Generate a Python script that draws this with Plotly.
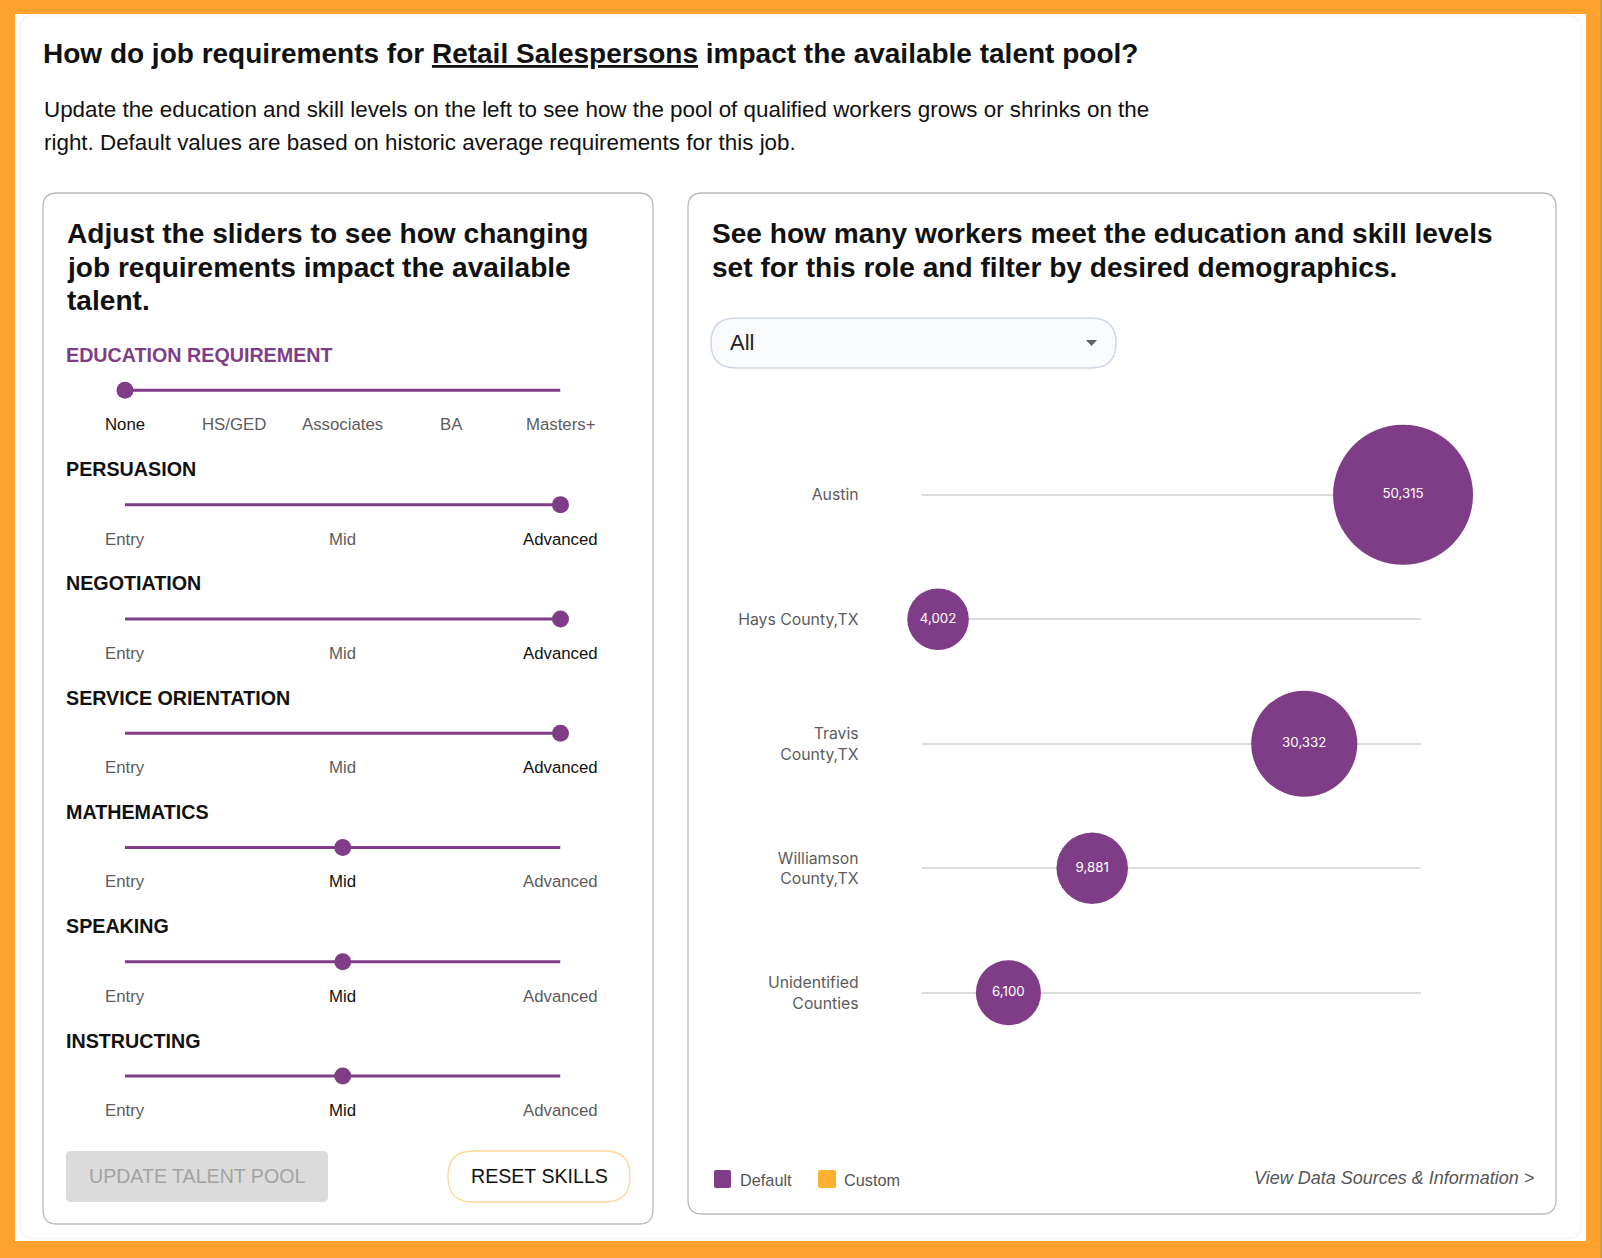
import plotly.graph_objects as go

W, H = 1602, 1258

PURPLE = "#7f3d87"
ORANGE = "#ffa12d"
HELV = "Liberation Sans"
DM = "Inter"

# chart data
counties = ["Austin", "Hays County,TX", "Travis<br>County,TX", "Williamson<br>County,TX", "Unidentified<br>Counties"]
workers = [50315, 4002, 30332, 9881, 6100]
# where each bubble sits along its track, percent
track_pos = [96.5, 3.3, 76.7, 34.2, 17.4]

# sliders
skills = ["EDUCATION REQUIREMENT", "PERSUASION", "NEGOTIATION", "SERVICE ORIENTATION", "MATHEMATICS", "SPEAKING", "INSTRUCTING"]
edu_levels = ["None", "HS/GED", "Associates", "BA", "Masters+"]
skill_levels = ["Entry", "Mid", "Advanced"]
selected = ["None", "Advanced", "Advanced", "Advanced", "Mid", "Mid", "Mid"]

# text
title_parts = "<b>How do job requirements for <u>Retail Salespersons</u> impact the available talent pool?</b>"
intro_lines = [
    "Update the education and skill levels on the left to see how the pool of qualified workers grows or shrinks on the",
    "right. Default values are based on historic average requirements for this job.",
]
left_heading = ["Adjust the sliders to see how changing", "job requirements impact the available", "talent."]
right_heading = ["See how many workers meet the education and skill levels", "set for this role and filter by desired demographics."]


def px(x):
    return x / W


def py(y):
    return 1 - y / H


def rrect(x0, y0, x1, y1, r, fill, line, lw=1.3):
    path = (
        f"M {px(x0 + r)} {py(y0)} L {px(x1 - r)} {py(y0)} "
        f"Q {px(x1)} {py(y0)} {px(x1)} {py(y0 + r)} L {px(x1)} {py(y1 - r)} "
        f"Q {px(x1)} {py(y1)} {px(x1 - r)} {py(y1)} L {px(x0 + r)} {py(y1)} "
        f"Q {px(x0)} {py(y1)} {px(x0)} {py(y1 - r)} L {px(x0)} {py(y0 + r)} "
        f"Q {px(x0)} {py(y0)} {px(x0 + r)} {py(y0)} Z"
    )
    return dict(type="path", path=path, xref="paper", yref="paper", fillcolor=fill,
                line=dict(color=line, width=lw), layer="below")


def label(x, y, text, size, color="#111111", anchor="left", font=HELV):
    return dict(x=px(x), y=py(y), xref="paper", yref="paper", text=text, showarrow=False,
                xanchor=anchor, yanchor="middle", borderpad=0,
                font=dict(family=font, size=size, color=color))


fig = go.Figure()

# bubbles, radius grows linearly with the count
radius = [27.4 + 0.000846 * v for v in workers]
fig.add_trace(
    go.Scatter(
        x=track_pos,
        y=counties,
        mode="markers+text",
        marker=dict(size=[2 * r for r in radius], color=PURPLE, opacity=1, line=dict(width=0)),
        text=[f"{v:,}" for v in workers],
        textposition="middle center",
        textfont=dict(family=DM, size=13.3, color="white"),
        cliponaxis=False,
        showlegend=False,
    )
)

# slider rows
annotations = []
for i, skill in enumerate(skills):
    levels = edu_levels if i == 0 else skill_levels
    n = len(levels)
    pos = [k / (n - 1) for k in range(n)]
    fig.add_trace(
        go.Scatter(
            x=pos,
            y=[skill] * n,
            xaxis="x2",
            yaxis="y2",
            mode="lines",
            line=dict(color=PURPLE, width=3),
            showlegend=False,
        )
    )
    fig.add_trace(
        go.Scatter(
            x=[pos[levels.index(selected[i])]],
            y=[skill],
            xaxis="x2",
            yaxis="y2",
            mode="markers",
            marker=dict(size=17, color=PURPLE),
            cliponaxis=False,
            showlegend=False,
        )
    )
    annotations.append(
        dict(x=px(64.3), y=skill, xref="paper", yref="y2", yshift=35.5, text=f"<b>{skill}</b>", showarrow=False,
             xanchor="left", yanchor="middle",
             font=dict(family=HELV, size=19.7, color=PURPLE if i == 0 else "#111111"))
    )
    for lev, p in zip(levels, pos):
        annotations.append(
            dict(x=p, y=skill, xref="x2", yref="y2", yshift=-34.5, text=lev, showarrow=False,
                 xanchor="center", yanchor="middle",
                 font=dict(family=HELV, size=16.8, color="#111111" if lev == selected[i] else "#5c5c5c"))
        )

shapes = [
    dict(type="rect", xref="paper", yref="paper", x0=px(15), x1=px(1586), y0=py(1241), y1=py(14),
         fillcolor="white", line=dict(width=0), layer="below"),
    dict(type="rect", xref="paper", yref="paper", x0=px(1600.7), x1=1, y0=0, y1=1,
         fillcolor="#9a9a9a", line=dict(width=0), layer="below"),
    rrect(20, 15.5, 1581, 1238.5, 14, "white", "#f7f7f7", 2.5),
    rrect(43, 193, 653, 1224, 14, "white", "#b9b9b9"),
    rrect(688, 193, 1556, 1214, 14, "white", "#b9b9b9"),
    rrect(711, 318, 1116, 368, 25, "#fafbfd", "#cfd7e2", 1.5),
    rrect(66, 1151, 328, 1202, 5, "#dbdbdb", "#dbdbdb", 0),
    rrect(448, 1151, 630, 1202, 25, "white", "#ffd898", 1.3),
    rrect(714, 1170, 731, 1188, 2, PURPLE, PURPLE, 0),
    rrect(818, 1170, 836, 1188, 2, "#ffb02e", "#ffb02e", 0),
    dict(type="path", xref="paper", yref="paper", layer="above", fillcolor="#5f6368", line=dict(width=0),
         path=f"M {px(1086)} {py(340)} L {px(1097)} {py(340)} L {px(1091.5)} {py(346)} Z"),
]

annotations += [
    label(42, 53, title_parts, 28),
    label(42.5, 109, intro_lines[0], 22.4),
    label(42.5, 142.5, intro_lines[1], 22.4),
]
for k, line in enumerate(left_heading):
    annotations.append(label(65.5, 233.5 + k * 33.7, f"<b>{line}</b>", 28.1))
for k, line in enumerate(right_heading):
    annotations.append(label(710.5, 233.5 + k * 33.7, f"<b>{line}</b>", 28.1))
annotations += [
    label(729, 342, "All", 22, "#222222"),
    label(197, 1176, "UPDATE TALENT POOL", 19.6, "#a3a3a3", "center"),
    label(539, 1176, "RESET SKILLS", 19.6, "#111111", "center"),
    label(739, 1180, "Default", 16.3, "#555555"),
    label(842.5, 1180, "Custom", 16.3, "#555555"),
    label(1535, 1178, "<i>View Data Sources &amp; Information &gt;</i>", 18, "#555555", "right"),
]

fig.update_layout(
    width=W,
    height=H,
    margin=dict(l=0, r=0, t=0, b=0),
    paper_bgcolor=ORANGE,
    plot_bgcolor="rgba(0,0,0,0)",
    hovermode=False,
    shapes=shapes,
    annotations=annotations,
    xaxis=dict(domain=[px(921.6), px(1420.5)], range=[0, 100], visible=False),
    yaxis=dict(
        domain=[py(1055), py(432.5)],
        type="category",
        categoryorder="array",
        categoryarray=counties,
        range=[4.5, -0.5],
        showgrid=True,
        gridcolor="#dcdcdc",
        gridwidth=1.5,
        zeroline=False,
        showline=False,
        ticks="",
        ticklabelstandoff=62,
        tickfont=dict(family=DM, size=15.8, color="#5c5c5c"),
    ),
    xaxis2=dict(domain=[px(125), px(560.5)], range=[0, 1], visible=False, anchor="y2"),
    yaxis2=dict(
        domain=[py(1133.2), py(333.2)],
        type="category",
        categoryorder="array",
        categoryarray=skills,
        range=[6.5, -0.5],
        visible=False,
        anchor="x2",
    ),
)

fig.write_html(
    "out.html",
    config=dict(displayModeBar=False),
    post_script="document.body.style.margin='0';document.body.style.overflow='hidden';",
)
